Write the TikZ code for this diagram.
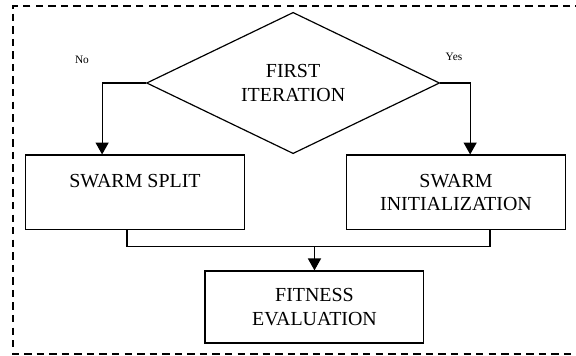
\documentclass[tikz,border=0pt]{standalone}
\usepackage{fontspec}
\setmainfont{Liberation Serif}
\usepackage{tikz}
\usetikzlibrary{positioning,shapes.geometric,arrows.meta}

\begin{document}
\begin{tikzpicture}[
    decision/.style={diamond,draw,line width=0.6pt,inner sep=0pt,
      minimum width=5.17cm,minimum height=1.96cm,align=center},
    block/.style={rectangle,draw,line width=0.6pt,align=center,
      minimum width=3.85cm,minimum height=1.32cm},
    arr/.style={line width=0.6pt,-{Triangle[length=0.21cm,width=0.23cm]}},
    answer/.style={font=\fontsize{5.7}{7}\selectfont},
    font=\fontsize{10}{12}\selectfont]
  \useasboundingbox (0,0) rectangle (10.16,6.279);
  \draw[dash pattern=on 3.7pt off 2.6pt,line width=0.7pt]
    (10.5,6.173) -- (0.229,6.173) -- (0.229,0.035) -- (10.5,0.035);
  \node[decision] (first) at (5.17,4.815) {FIRST\\ITERATION};
  \node[block] (split) at (2.381,2.884) {SWARM SPLIT\\ \mbox{}};
  \node[block] (init) at (8.043,2.884) {SWARM\\INITIALIZATION};
  \node[block,minimum width=3.86cm,minimum height=1.27cm] (fit) at (5.547,0.864)
    {FITNESS\\EVALUATION};
  \node[answer] (no) at (1.446,5.221) {No};
  \node[answer] (yes) at (8.008,5.274) {Yes};
  \draw[arr] (first.west) -| ([xshift=-0.58cm]split.north);
  \draw[arr] (first.east) -| ([xshift=0.25cm]init.north);
  \draw[line width=0.6pt] ([xshift=-0.14cm]split.south) -- ++(0,-0.28)
    -| ([xshift=0.6cm]init.south);
  \draw[arr] ([yshift=-0.28cm]split.south -| fit.north) -- (fit.north);
\end{tikzpicture}
\end{document}
